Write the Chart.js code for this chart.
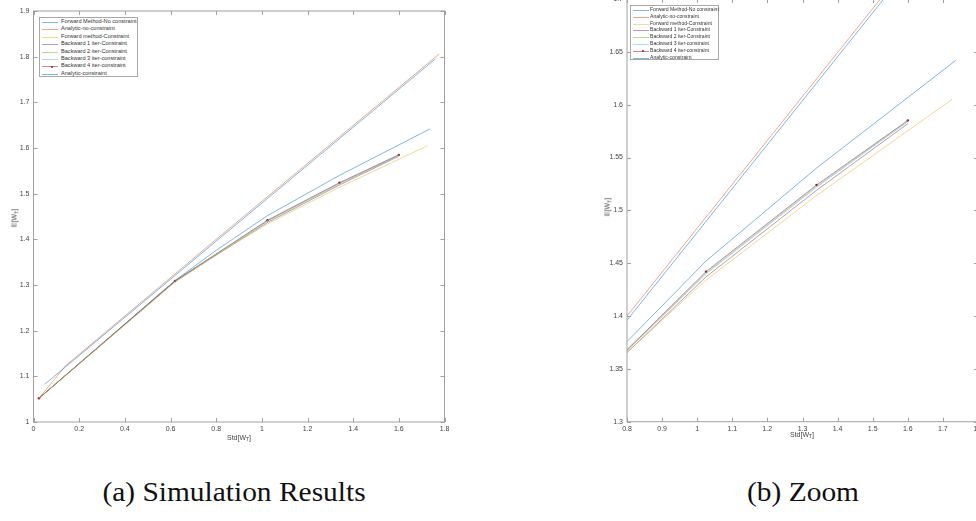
<!DOCTYPE html>
<html>
<head>
<meta charset="utf-8">
<script src="https://cdn.jsdelivr.net/npm/chart.js@4.4.1/dist/chart.umd.min.js"></script>
<style>
  html, body { margin: 0; padding: 0; background: #fff; }
  body { width: 976px; height: 521px; position: relative; overflow: hidden; font-family: "Liberation Sans", Arial, sans-serif; }
  canvas { position: absolute; }
  .lab { position: absolute; font-size: 7px; color: #444; white-space: nowrap; line-height: 1; }
  .lab sub { font-size: 5px; vertical-align: -1.5px; line-height: 0; }
  .rot { transform: translate(-50%, -50%) rotate(-90deg); }
  .cen { transform: translate(-50%, -50%); }
  .legend { position: absolute; border: 1px solid #a8a8a8; background: #fff; box-sizing: border-box; }
  .row { position: absolute; left: 0; right: 0; }
  .row .smp { position: absolute; left: 2px; width: 16px; top: 50%; height: 0; border-top: 1px solid; }
  .row .dot { position: absolute; left: 9px; top: -1.5px; width: 2px; height: 2px; border-radius: 50%; }
  .row .txt { position: absolute; top: 50%; transform: translateY(-50%); color: #333; white-space: nowrap; line-height: 1; }
  .cap { position: absolute; font-family: "Liberation Serif", "DejaVu Serif", serif; font-size: 27px; color: #111; white-space: nowrap; transform: translate(-50%, -50%) scaleX(1.09); }
</style>
</head>
<body>
<canvas id="chartA" width="460" height="445" style="left:0px; top:0px;"></canvas>
<canvas id="chartB" width="430" height="457" style="left:560px; top:-12px;"></canvas>

<div class="lab cen" style="left:239px; top:437px;">Std[W<sub>T</sub>]</div>
<div class="lab rot" style="left:14px; top:218px;">E[W<sub>T</sub>]</div>
<div class="lab cen" style="left:802px; top:434px;">Std[W<sub>T</sub>]</div>
<div class="lab rot" style="left:607px; top:207px;">E[W<sub>T</sub>]</div>

<div id="legendA" class="legend" style="left:39px; top:17px; width:99px; height:60px;"></div>
<div id="legendB" class="legend" style="left:630px; top:5px; width:89px; height:55px;"></div>

<div class="cap" style="left:234px; top:492px;">(a) Simulation Results</div>
<div class="cap" style="left:803px; top:492px;">(b) Zoom</div>

<script>
// nomes das séries
const seriesNames = [
  "Forward Method-No constraint",
  "Analytic-no-constraint",
  "Forward method-Constraint",
  "Backward 1 iter-Constraint",
  "Backward 2 iter-Constraint",
  "Backward 3 iter-constraint",
  "Backward 4 iter-constraint",
  "Analytic-constraint"
];

// cores padrão do MATLAB
const seriesColors = ["#0072BD", "#D95319", "#EDB120", "#7E2F8E", "#77AC30", "#4DBEEE", "#A2142F", "#0072BD"];

// Std[W_T] e E[W_T] de cada curva
const fwdNoConsX = [0.05, 0.8, 1.76];
const fwdNoConsY = [1.083, 1.396, 1.795];

const anaNoConsX = [0.024, 0.14, 0.8, 1.777];
const anaNoConsY = [1.052, 1.123, 1.400, 1.806];

const fwdConsX = [0.024, 0.62, 0.8, 1.025, 1.34, 1.726];
const fwdConsY = [1.052, 1.306, 1.3657, 1.434, 1.514, 1.605];

const backX = [0.024, 0.62, 1.025, 1.34, 1.6];
const back1Y = [1.052, 1.308, 1.437, 1.519, 1.582];
const back2Y = [1.052, 1.309, 1.440, 1.522, 1.584];
const back3Y = [1.052, 1.309, 1.441, 1.523, 1.585];
const back4Y = [1.052, 1.309, 1.442, 1.524, 1.585];

const anaConsX = [0.024, 0.62, 0.8, 1.025, 1.34, 1.737];
const anaConsY = [1.052, 1.31, 1.3758, 1.452, 1.54, 1.642];

// eixos
const xTicksA = [0, 0.2, 0.4, 0.6, 0.8, 1, 1.2, 1.4, 1.6, 1.8];
const yTicksA = [1, 1.1, 1.2, 1.3, 1.4, 1.5, 1.6, 1.7, 1.8, 1.9];
const xTicksB = [0.8, 0.9, 1, 1.1, 1.2, 1.3, 1.4, 1.5, 1.6, 1.7, 1.8];
const yTicksB = [1.3, 1.35, 1.4, 1.45, 1.5, 1.55, 1.6, 1.65, 1.7];

const seriesX = [fwdNoConsX, anaNoConsX, fwdConsX, backX, backX, backX, backX, anaConsX];
const seriesY = [fwdNoConsY, anaNoConsY, fwdConsY, back1Y, back2Y, back3Y, back4Y, anaConsY];

function hexAlpha(hex, a) {
  const n = parseInt(hex.slice(1), 16);
  return `rgba(${(n >> 16) & 255},${(n >> 8) & 255},${n & 255},${a})`;
}

function buildDatasets() {
  return seriesNames.map((name, i) => ({
    label: name,
    data: seriesX[i].map((x, k) => ({ x: x, y: seriesY[i][k] })),
    borderColor: hexAlpha(seriesColors[i], 0.5),
    backgroundColor: seriesColors[i],
    borderWidth: 1,
    pointRadius: i === 6 ? 1.2 : 0,
    pointBorderWidth: 0,
    showLine: true,
    fill: false,
    tension: 0
  }));
}

// caixa e marcas para dentro, estilo MATLAB
const boxTicks = {
  id: "boxTicks",
  afterDraw(chart) {
    const { ctx, chartArea: a, scales } = chart;
    const len = 4;
    ctx.save();
    ctx.strokeStyle = "#a0a0a0";
    ctx.lineWidth = 1;
    ctx.strokeRect(a.left, a.top, a.right - a.left, a.bottom - a.top);
    ctx.beginPath();
    scales.x.ticks.forEach(t => {
      const px = Math.round(scales.x.getPixelForValue(t.value)) + 0.5;
      ctx.moveTo(px, a.bottom); ctx.lineTo(px, a.bottom - len);
      ctx.moveTo(px, a.top); ctx.lineTo(px, a.top + len);
    });
    scales.y.ticks.forEach(t => {
      const py = Math.round(scales.y.getPixelForValue(t.value)) + 0.5;
      ctx.moveTo(a.left, py); ctx.lineTo(a.left + len, py);
      ctx.moveTo(a.right, py); ctx.lineTo(a.right - len, py);
    });
    ctx.stroke();
    ctx.restore();
  }
};

function fmt(v) { return String(+Number(v).toFixed(3)); }

function makeChart(id, xTicks, yTicks, yWidth, xHeight, pad) {
  const ctx = document.getElementById(id).getContext("2d");
  return new Chart(ctx, {
    type: "scatter",
    data: { datasets: buildDatasets() },
    options: {
      responsive: false,
      animation: false,
      devicePixelRatio: 1,
      layout: { padding: pad },
      plugins: { legend: { display: false }, tooltip: { enabled: false } },
      scales: {
        x: {
          type: "linear",
          min: xTicks[0], max: xTicks[xTicks.length - 1],
          afterBuildTicks: s => { s.ticks = xTicks.map(v => ({ value: v })); },
          afterFit: s => { s.height = xHeight; },
          grid: { display: false, drawTicks: false },
          border: { display: false },
          ticks: { font: { size: 7, family: "Liberation Sans" }, color: "#444", padding: 3, maxRotation: 0, autoSkip: false, callback: fmt }
        },
        y: {
          type: "linear",
          min: yTicks[0], max: yTicks[yTicks.length - 1],
          afterBuildTicks: s => { s.ticks = yTicks.map(v => ({ value: v })); },
          afterFit: s => { s.width = yWidth; },
          grid: { display: false, drawTicks: false },
          border: { display: false },
          ticks: { font: { size: 7, family: "Liberation Sans" }, color: "#444", padding: 4, autoSkip: false, callback: fmt }
        }
      }
    },
    plugins: [boxTicks]
  });
}

// legenda em HTML
function buildLegend(id, firstRow, step, textLeft, fontSize) {
  const box = document.getElementById(id);
  seriesNames.forEach((name, i) => {
    const row = document.createElement("div");
    row.className = "row";
    row.style.top = (firstRow + step * i - step / 2) + "px";
    row.style.height = step + "px";
    const smp = document.createElement("div");
    smp.className = "smp";
    smp.style.borderColor = hexAlpha(seriesColors[i], 0.5);
    if (i === 6) {
      const dot = document.createElement("div");
      dot.className = "dot";
      dot.style.background = seriesColors[i];
      smp.appendChild(dot);
    }
    const txt = document.createElement("div");
    txt.className = "txt";
    txt.style.left = textLeft + "px";
    txt.style.fontSize = fontSize + "px";
    txt.textContent = name;
    row.appendChild(smp);
    row.appendChild(txt);
    box.appendChild(row);
  });
}

document.addEventListener("DOMContentLoaded", () => {
  makeChart("chartA", xTicksA, yTicksA, 33.5, 23, { top: 11, right: 15.5, left: 0, bottom: 0 });
  makeChart("chartB", xTicksB, yTicksB, 67, 23.3, { top: 11, right: 12, left: 0, bottom: 0 });
  buildLegend("legendA", 4, 7.4, 21, 5.6);
  buildLegend("legendB", 4, 6.8, 19, 5.1);
});
</script>
</body>
</html>
